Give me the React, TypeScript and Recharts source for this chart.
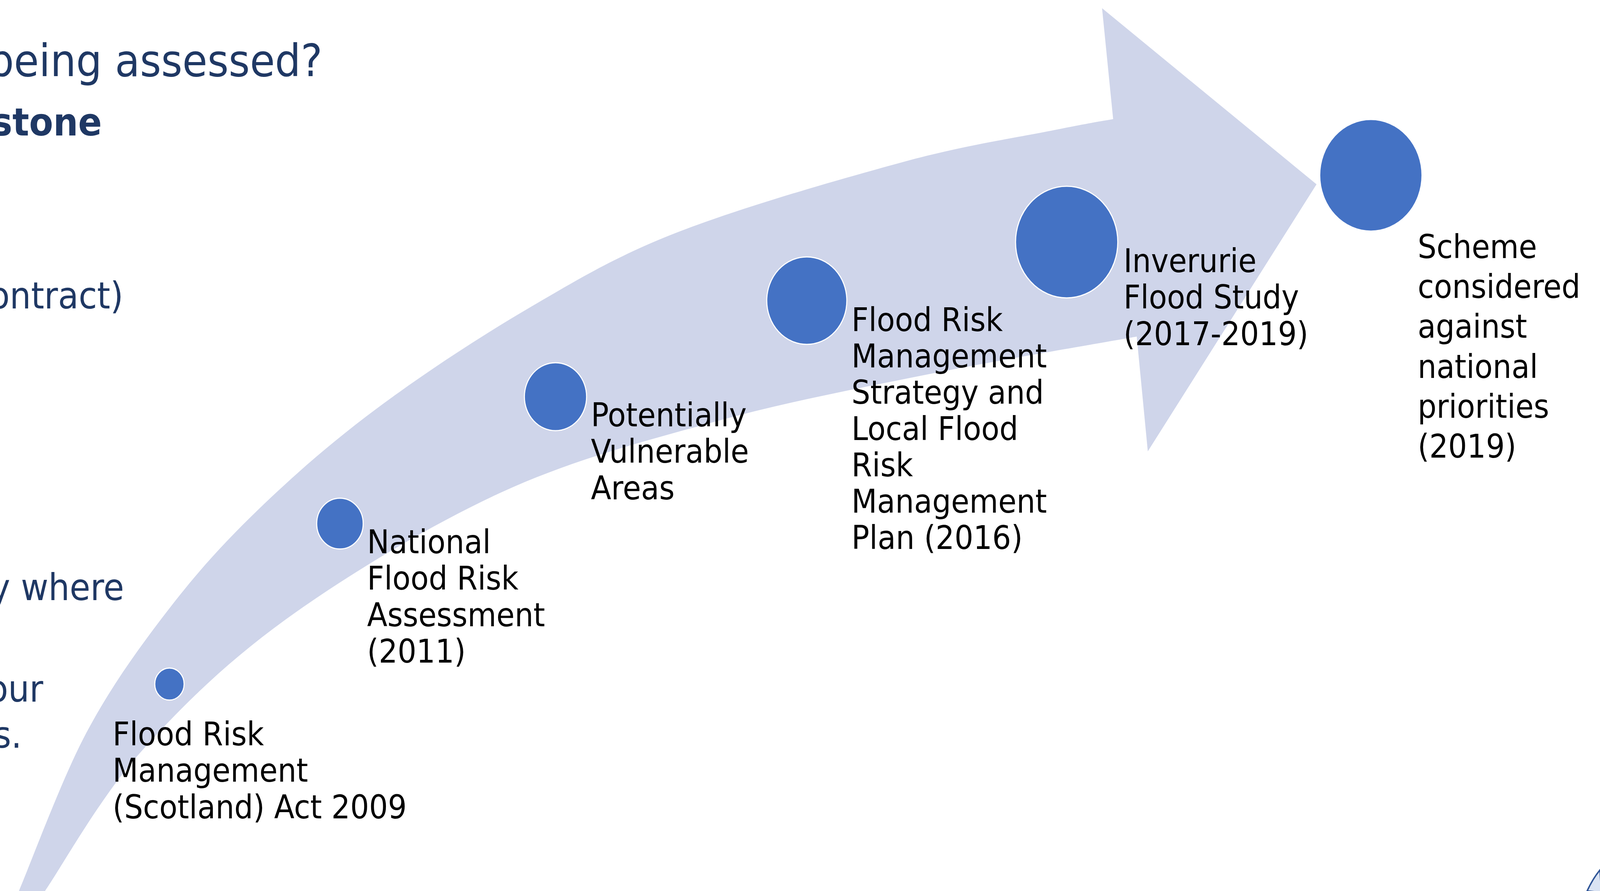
import React from 'react';
import { ScatterChart, Scatter, XAxis, YAxis, ZAxis, ReferenceArea } from 'recharts';

const W = 4476;
const H = 2282;
const FONT = '"DejaVu Sans", Verdana, sans-serif';

// milestones along the arrow
const stageLabels = [
  ['Flood Risk', 'Management', '(Scotland) Act 2009'],
  ['National', 'Flood Risk', 'Assessment', '(2011)'],
  ['Potentially', 'Vulnerable', 'Areas'],
  ['Flood Risk', 'Management', 'Strategy and', 'Local Flood', 'Risk', 'Management', 'Plan (2016)'],
  ['Inverurie', 'Flood Study', '(2017-2019)'],
  ['Scheme', 'considered', 'against', 'national', 'priorities', '(2019)'],
];
const stageX = [474, 951, 1554, 2257, 2984, 3835];
const stageY = [1752, 1341, 1016, 770, 620, 449];
const stageRadius = [41, 65, 87, 112, 143, 143];

// arrow outline (outer edge, inner edge, head)
const outerEdgeX = [34, 53, 242, 474, 726, 1053, 1474, 1895, 2526, 2950, 3114];
const outerEdgeY = [2322, 2282, 1876, 1558, 1302, 1047, 792, 595, 415, 333, 305];
const innerEdgeX = [96, 126, 390, 800, 1400, 2000, 2600, 3180];
const innerEdgeY = [2322, 2282, 1930, 1586, 1262, 1080, 958, 862];
const headX = [3083, 3683, 3211];
const headY = [21, 472, 1156];

// slide text that is cut off on the left
const slideText = ['being assessed?', 'stone', 'ontract)', 'y where', 'our', 's.'];

const SLIDE_TEXT_LAYOUT = [
  { x: 902, y: 195, size: 114, bold: false },
  { x: 285, y: 347, size: 98, bold: true },
  { x: 345, y: 790, size: 94, bold: false },
  { x: 347, y: 1537, size: 94, bold: false },
  { x: 121, y: 1797, size: 94, bold: false },
  { x: 61, y: 1915, size: 94, bold: false },
];

const LABEL_LAYOUT = [
  { dx: -159, dy: 157, gap: 93.5 },
  { dx: 76, dy: 76, gap: 93.5 },
  { dx: 99, dy: 76, gap: 93.5 },
  { dx: 125, dy: 78, gap: 93 },
  { dx: 159, dy: 77, gap: 93.5 },
  { dx: 131, dy: 212, gap: 102.2 },
];

const stages = stageX.map((x, i) => ({
  idx: i,
  x,
  y: stageY[i],
  area: Math.PI * stageRadius[i] * stageRadius[i],
  lines: stageLabels[i],
}));
const maxArea = Math.max(...stages.map((s) => s.area));

function smooth(pts: number[][]): string {
  let d = '';
  for (let i = 0; i < pts.length - 1; i++) {
    const p0 = pts[i - 1] || pts[i];
    const p1 = pts[i];
    const p2 = pts[i + 1];
    const p3 = pts[i + 2] || p2;
    const c1 = [p1[0] + (p2[0] - p0[0]) / 6, p1[1] + (p2[1] - p0[1]) / 6];
    const c2 = [p2[0] - (p3[0] - p1[0]) / 6, p2[1] - (p3[1] - p1[1]) / 6];
    d += ` C ${c1[0]} ${c1[1]} ${c2[0]} ${c2[1]} ${p2[0]} ${p2[1]}`;
  }
  return d;
}

function ArrowShape(props: any) {
  const { x, y, width, height } = props;
  const px = (v: number) => x + (v / W) * width;
  const py = (v: number) => y + (v / H) * height;

  const outer = outerEdgeX.map((v, i) => [px(v), py(outerEdgeY[i])]);
  const inner = innerEdgeX.map((v, i) => [px(v), py(innerEdgeY[i])]).reverse();
  const head = headX.map((v, i) => [px(v), py(headY[i])]);

  let d = `M ${outer[0][0]} ${outer[0][1]}` + smooth(outer);
  head.forEach((p) => {
    d += ` L ${p[0]} ${p[1]}`;
  });
  d += ` L ${inner[0][0]} ${inner[0][1]}` + smooth(inner) + ' Z';

  return (
    <g>
      <path d={d} fill="#CFD5EA" stroke="none" />
      {slideText.map((t, i) => {
        const l = SLIDE_TEXT_LAYOUT[i];
        return (
          <text
            key={i}
            x={px(l.x)}
            y={py(l.y)}
            textAnchor="end"
            fontFamily={FONT}
            fontSize={l.size}
            fontWeight={l.bold ? 'bold' : 'normal'}
            fill="#1F3864"
          >
            {t}
          </text>
        );
      })}
      <path
        d={`M ${px(4440)} ${py(2282)} Q ${px(4456)} ${py(2250)} ${px(4476)} ${py(2228)} L ${px(4480)} ${py(2286)} Z`}
        fill="#DAE3F3"
        stroke="#2F5597"
        strokeWidth={4}
      />
    </g>
  );
}

function StageDot(props: any) {
  const { cx, cy, width, size, payload } = props;
  const r = width ? width / 2 : Math.sqrt((size || 0) / Math.PI);
  const lay = LABEL_LAYOUT[payload.idx];
  const lx = cx + lay.dx;
  return (
    <g>
      <circle cx={cx} cy={cy} r={r} fill="#4472C4" stroke="#FFFFFF" strokeWidth={3} />
      <text x={lx} y={cy + lay.dy} fontFamily={FONT} fontSize={83} fill="#000000">
        {payload.lines.map((line: string, i: number) => (
          <tspan key={i} x={lx} dy={i === 0 ? 0 : lay.gap}>
            {line}
          </tspan>
        ))}
      </text>
    </g>
  );
}

export default function App() {
  // fit the 4476x2282 drawing into whatever css viewport the page really has
  const vw = typeof window !== 'undefined' ? window.innerWidth : W;
  const vh = typeof window !== 'undefined' ? window.innerHeight : H;
  const sx = vw / W;
  const sy = vh / H;

  return (
    <div style={{ position: 'fixed', left: 0, top: 0, width: '100vw', height: '100vh', overflow: 'hidden', background: '#FFFFFF' }}>
      <div
        style={{
          position: 'absolute',
          left: 0,
          top: 0,
          width: W,
          height: H,
          transform: `scale(${sx}, ${sy})`,
          transformOrigin: '0 0',
        }}
      >
        <ScatterChart width={W} height={H} margin={{ top: 0, right: 0, bottom: 0, left: 0 }}>
          <XAxis type="number" dataKey="x" domain={[0, W]} allowDataOverflow hide />
          <YAxis type="number" dataKey="y" domain={[0, H]} reversed allowDataOverflow hide />
          <ZAxis type="number" dataKey="area" domain={[0, maxArea]} range={[0, maxArea]} />
          <ReferenceArea x1={0} x2={W} y1={0} y2={H} shape={ArrowShape} />
          <Scatter data={stages} shape={StageDot} isAnimationActive={false} />
        </ScatterChart>
      </div>
    </div>
  );
}
